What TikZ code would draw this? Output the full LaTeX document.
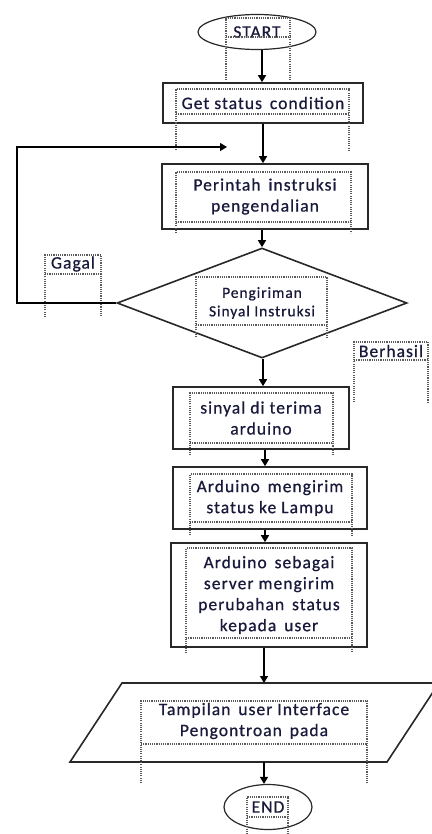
\documentclass[tikz,border=0pt]{standalone}
\usepackage{fontspec}
\setmainfont{Carlito}[LetterSpace=6,FakeBold=0.7]
\usetikzlibrary{shapes.geometric,arrows.meta}
\definecolor{linec}{RGB}{40,40,40}
\definecolor{txtc}{RGB}{25,25,60}
\definecolor{dotc}{RGB}{90,90,90}
\newcommand\txtfont{\fontsize{17.5}{21}\selectfont}
\newcommand\smfont{\fontsize{15.5}{18.5}\selectfont}
\newcommand\tfr[5]{\draw[tframe] (#1,#5)--(#1,#3)--(#2,#3)--(#2,#5); \draw[tframe] (#1,#4)--(#2,#4);}
\begin{document}
\begin{tikzpicture}[x=1pt,y=-1pt,
  shp/.style={draw=linec, line width=1.6pt, inner sep=0pt, align=center, font=\txtfont, text=txtc},
  boxshape/.style={shp, rectangle},
  ellshape/.style={shp, ellipse, line width=1.2pt},
  lbl/.style={inner sep=0pt, font=\txtfont, text=txtc},
  arr/.style={line width=1.4pt, draw=black, -{Triangle[length=7pt,width=8pt]}},
  tframe/.style={draw=dotc, line width=1.1pt, dash pattern=on 1.1pt off 1.1pt}]
\useasboundingbox (0,0) rectangle (431,834);

% shapes
\node[ellshape, minimum width=118pt, minimum height=35pt] (start) at (257,32) {START};
\node[boxshape, minimum width=200pt, minimum height=40pt] (get) at (263,103) {Get status\, condition};
\node[boxshape, minimum width=206pt, minimum height=65pt] (cmd) at (265,196.5) {Perintah\, instruksi\\pengendalian};
\node[shp, diamond, shape aspect=2.636, minimum width=290pt, minimum height=110pt, font=\smfont] (dec) at (262,303) {Pengiriman\\Sinyal Instruksi};
\node[boxshape, minimum width=176pt, minimum height=62pt] (recv) at (261,418) {sinyal di terima\\arduino};
\node[boxshape, minimum width=194pt, minimum height=62pt] (send) at (270,498) {Arduino\, mengirim\\status ke Lampu};
\node[boxshape, minimum width=196pt, minimum height=104pt] (srv) at (269,595) {Arduino\, sebagai\\server mengirim\\perubahan\, status\\kepada\, user};
\draw[draw=linec, line width=1.6pt] (122,683)--(439,683)--(387,762)--(70,762)--cycle;
\node[lbl, align=center] (disp) at (254,721) {Tampilan\, user Interface\\Pengontroan\, pada};
\coordinate (ptop) at (264,683);
\coordinate (pbot) at (264,762);
\node[ellshape, minimum width=88pt, minimum height=45pt] (end) at (268,807) {END};

\node[lbl] (gagal) at (73,264) {Gagal};
\node[lbl] (berhasil) at (391,351) {Berhasil};

% dotted text frames
\tfr{226}{290}{18}{37}{80}
\tfr{176}{349}{89}{114}{150}
\tfr{176}{351}{172}{222}{233}
\tfr{196}{327}{277}{325}{337}
\tfr{45}{101}{255}{274}{317}
\tfr{354}{428}{342}{360}{402}
\tfr{190}{333}{393}{443}{455}
\tfr{190}{352}{474}{522}{535}
\tfr{186}{352}{548}{638}{653}
\tfr{141}{367}{701}{744}{783}
\tfr{247}{288}{797}{817}{834}

% connectors
\draw[arr] ([xshift=5pt]start.south) -- ([xshift=5pt]start.south |- get.north);
\draw[arr] (get.south) -- (get.south |- cmd.north);
\draw[arr] ([xshift=-3pt]cmd.south) -- ([xshift=-3pt]cmd.south |- dec.north);
\draw[arr] ([xshift=1pt]dec.south) -- ([xshift=1pt]dec.south |- recv.north);
\draw[arr] ([xshift=4pt]recv.south) -- ([xshift=4pt]recv.south |- send.north);
\draw[arr] ([xshift=-5pt]send.south) -- ([xshift=-5pt]send.south |- srv.north);
\draw[arr] ([xshift=-5pt]srv.south) -- (ptop);
\draw[arr] (pbot) -- (pbot |- end.north);
\coordinate (loopend) at (227,147);
\draw[arr] (dec.west) -- (17,303) -- (17,147) -- (loopend);
\end{tikzpicture}
\end{document}
